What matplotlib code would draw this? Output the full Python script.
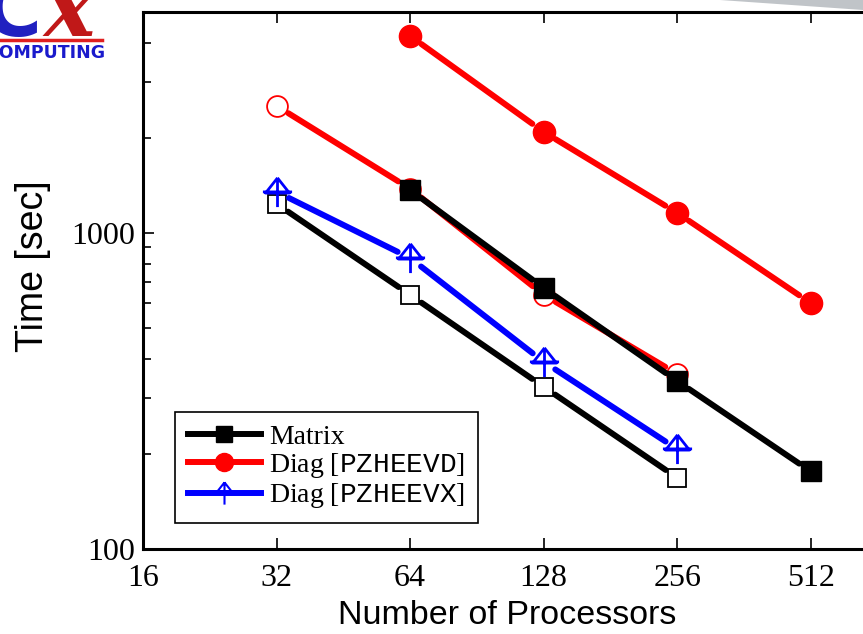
import numpy as np
import matplotlib
matplotlib.use("Agg")
import matplotlib.pyplot as plt
from matplotlib.path import Path
from matplotlib.lines import Line2D
from matplotlib.patches import Polygon

plt.rcParams['font.family'] = 'Liberation Serif'
plt.rcParams['mathtext.fontset'] = 'custom'
plt.rcParams['mathtext.rm'] = 'Liberation Serif'
plt.rcParams['mathtext.tt'] = 'Liberation Mono'

# data
procs_matrix = [64, 128, 256, 512]
time_matrix = [1368, 670, 340, 176]
procs_matrix_b = [32, 64, 128, 256]
time_matrix_b = [1236, 637, 326, 168]
procs_evd = [64, 128, 256, 512]
time_evd = [4200, 2087, 1157, 600]
procs_evd_b = [32, 64, 128, 256]
time_evd_b = [2523, 1380, 637, 358]
procs_evx = [32, 64, 128, 256]
time_evx = [1349, 833, 391, 207]

xticks = [16, 32, 64, 128, 256, 512]

# triangle with a cross through it
tri_verts = [(0, 1), (-0.82, -0.04), (0.82, -0.04), (0, 1),
             (0, 1), (0, -1),
             (-1, 0.04), (1, 0.04)]
tri_codes = [Path.MOVETO, Path.LINETO, Path.LINETO, Path.LINETO,
             Path.MOVETO, Path.LINETO,
             Path.MOVETO, Path.LINETO]
tri_cross = Path(tri_verts, tri_codes)

fig = plt.figure(figsize=(8.63, 6.34), dpi=100)
ax = fig.add_axes([143 / 863, 1 - 549 / 634, 728 / 863, 537 / 634])
ax.set_xscale('log', base=2)
ax.set_yscale('log')
ax.set_xlim(16, 700)
ax.set_ylim(100, 5000)

LW = 4.3


def gapped(x, y, color, z, gap=10):
    for i in range(len(x) - 1):
        ax.annotate('', xy=(x[i + 1], y[i + 1]), xytext=(x[i], y[i]),
                    arrowprops=dict(arrowstyle='-', color=color, lw=LW,
                                    shrinkA=gap, shrinkB=gap, capstyle='round'),
                    zorder=z, annotation_clip=False)


gapped(procs_evd_b, time_evd_b, 'red', 2)
ax.plot(procs_evd_b, time_evd_b, 'o', ms=15, mfc='white', mec='red', mew=1.3, zorder=2.5)
gapped(procs_evd, time_evd, 'red', 2)
ax.plot(procs_evd, time_evd, 'o', ms=16, color='red', zorder=2.5)

gapped(procs_matrix_b, time_matrix_b, 'black', 2.8)
ax.plot(procs_matrix_b, time_matrix_b, 's', ms=13.5, mfc='white', mec='black', mew=1.3, zorder=3.2)
gapped(procs_matrix, time_matrix, 'black', 3)
ax.plot(procs_matrix, time_matrix, 's', ms=14, color='black', zorder=3.5)

gapped(procs_evx, time_evx, 'blue', 3.3)
ax.plot(procs_evx, time_evx, marker=tri_cross, ls='none', ms=21, mfc='none', mec='blue', mew=2, zorder=4)

ax.xaxis.set_major_locator(matplotlib.ticker.FixedLocator(xticks))
ax.xaxis.set_major_formatter(matplotlib.ticker.FixedFormatter([str(v) for v in xticks]))
ax.xaxis.set_minor_locator(matplotlib.ticker.NullLocator())
ax.yaxis.set_major_locator(matplotlib.ticker.FixedLocator([100, 1000]))
ax.yaxis.set_major_formatter(matplotlib.ticker.FixedFormatter(['100', '1000']))
ax.yaxis.set_minor_locator(matplotlib.ticker.LogLocator(base=10, subs=np.arange(2, 10)))
ax.yaxis.set_minor_formatter(matplotlib.ticker.NullFormatter())

ax.tick_params(which='both', direction='in', top=True, right=False, labelsize=23, width=1.2)
ax.tick_params(which='major', length=8)
ax.tick_params(axis='x', which='major', pad=11)
ax.tick_params(axis='y', which='major', pad=6)
ax.tick_params(which='minor', length=6)
for s in ax.spines.values():
    s.set_linewidth(2.2)

ax.set_xlabel('Number of Processors', family='Liberation Sans', fontsize=24.5, labelpad=5)
ax.set_ylabel('Time [sec]', family='Liberation Sans', fontsize=27)
ax.yaxis.set_label_coords(-0.126, 0.526)

handles = [
    Line2D([], [], color='black', lw=LW, marker='s', ms=11),
    Line2D([], [], color='red', lw=LW, marker='o', ms=13),
    Line2D([], [], color='blue', lw=LW, marker=tri_cross, ms=16, mfc='none', mec='blue', mew=1.5),
]
labels = ['Matrix', r'Diag [$\mathtt{PZHEEVD}$]', r'Diag [$\mathtt{PZHEEVX}$]']
leg = fig.legend(handles, labels, loc='lower left', bbox_to_anchor=(175 / 863, 1 - 523 / 634),
                 borderaxespad=0, fontsize=20, handlelength=2.65, handletextpad=0.3,
                 labelspacing=0.05, fancybox=False, edgecolor='black', framealpha=1,
                 borderpad=0.45)
leg.get_frame().set_linewidth(1.2)

# logo remnants top left
fig.text(-0.016, 1 - 58 / 634, 'COMPUTING', family='DejaVu Sans', fontweight='bold',
         fontsize=12.5, color='#1a1acc', va='baseline')
fig.add_artist(Line2D([0, 102 / 863], [1 - 40 / 634, 1 - 40 / 634], color='#e02020', lw=2.5))
fig.text(-0.02, 1 - 36 / 634, 'C', family='DejaVu Sans', fontweight='bold', fontsize=58,
         color='#2020c0', va='baseline')
fig.text(0.05, 1 - 36 / 634, 'x', family='DejaVu Serif', fontstyle='italic', fontweight='bold',
         fontsize=62, color='#c01818', va='baseline')

# grey decoration top right
fig.add_artist(Polygon([[720 / 863, 1.0], [863 / 863, 1.0], [863 / 863, 1 - 10 / 634]],
                       closed=True, transform=fig.transFigure, color='#c0c4c8', lw=0))

fig.savefig('out.png', dpi=100)
